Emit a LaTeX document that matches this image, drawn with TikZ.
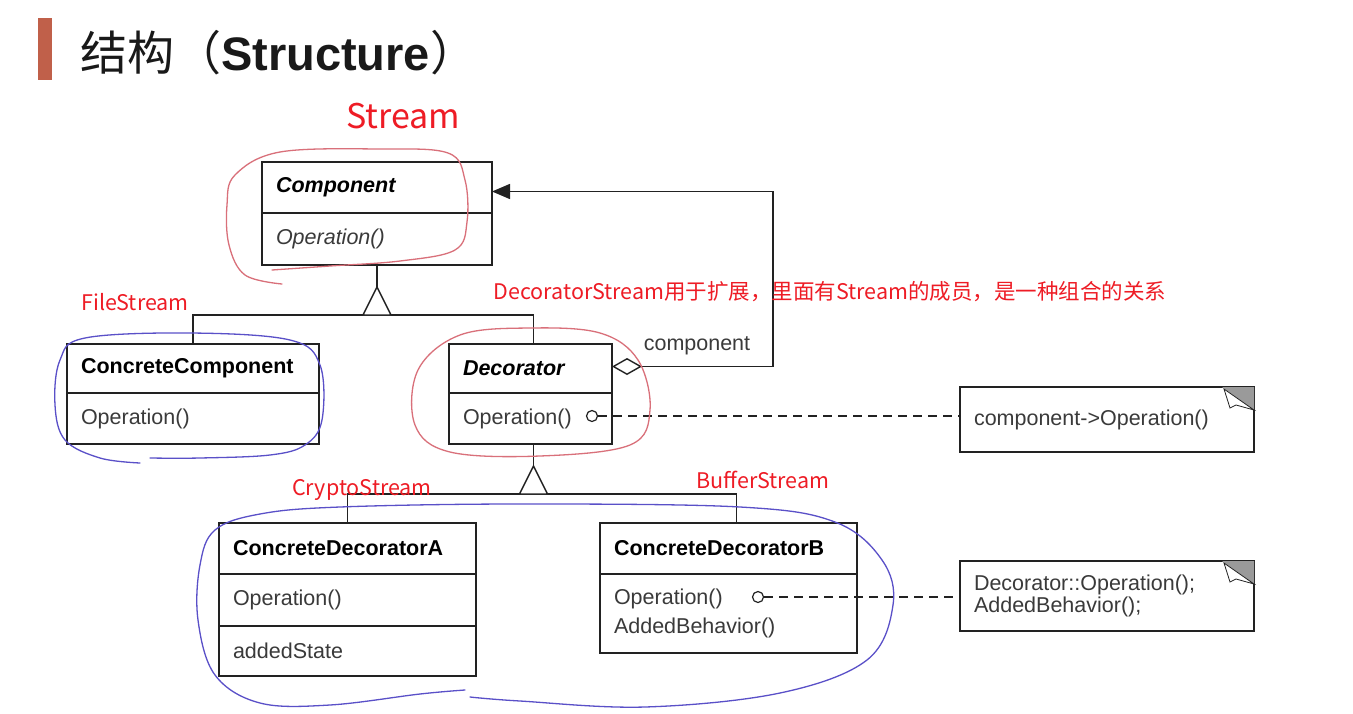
\documentclass[tikz,border=0pt]{standalone}
\usepackage{fontspec}
\setmainfont{Liberation Sans}
\newfontfamily\cjk{Noto Sans CJK SC}
\usetikzlibrary{arrows.meta,positioning,calc}
\definecolor{umlline}{HTML}{222222}
\definecolor{umltext}{HTML}{3A3A3A}
\definecolor{notered}{HTML}{EE1C25}
\definecolor{loopred}{HTML}{D9707A}
\definecolor{loopblue}{HTML}{5A50C8}
\definecolor{barbrown}{HTML}{C0604A}
\definecolor{foldgray}{HTML}{9A9A9A}
\newcommand{\umlfont}{\fontsize{21.5}{29}\selectfont}
\newcommand{\remfont}{\cjk\fontsize{21.5}{26}\selectfont}

\begin{document}
\begin{tikzpicture}[x=1pt, y=-1pt,
  umlbox/.style={draw=umlline, line width=1.4pt, outer sep=0pt, inner xsep=14pt, inner ysep=0pt, align=left, font=\umlfont, text=umltext},
  headbox/.style={umlbox, anchor=north west, text=black, font=\umlfont\bfseries},
  port/.style={circle, draw=umlline, line width=1.2pt, fill=white, minimum size=11pt, inner sep=0pt},
  link/.style={draw=umlline, line width=1.4pt},
  notelink/.style={link, dash pattern=on 9pt off 6pt},
  inherit/.style={draw=umlline, line width=1.4pt, fill=white, line join=miter},
  hint/.style={font=\remfont, text=notered},
  scribble/.style={line width=1.3pt, line cap=round, line join=round}]
  \fill[white] (0,0) rectangle (1353,713);
  \useasboundingbox (0,0) rectangle (1353,713);

  % title
  \node[fill=barbrown, minimum width=14pt, minimum height=62pt, inner sep=0pt, anchor=north west] (bar) at (38,18) {};
  \node[anchor=west, inner sep=0pt, text=black!90, font=\fontsize{47}{50}\selectfont] (title) at (80,53) {{\cjk 结构（}\textbf{Structure}{\cjk ）}};

  % classes
  \node[headbox, text width=202pt, minimum height=51pt, font=\umlfont\bfseries\itshape] (comp) at (262,162) {Component};
  \node[umlbox, text width=202pt, minimum height=52pt, font=\umlfont\itshape, below=0pt of comp] (compops) {Operation()};

  \node[headbox, text width=224pt, minimum height=49pt] (ccomp) at (67,344) {ConcreteComponent};
  \node[umlbox, text width=224pt, minimum height=51pt, below=0pt of ccomp] (ccompops) {Operation()};

  \node[headbox, text width=135pt, minimum height=49pt, font=\umlfont\bfseries\itshape] (deco) at (449,344) {Decorator};
  \node[umlbox, text width=135pt, minimum height=51pt, below=0pt of deco] (decoops) {Operation()};

  \node[headbox, text width=229pt, minimum height=51pt] (cdecoA) at (219,523) {ConcreteDecoratorA};
  \node[umlbox, text width=229pt, minimum height=52pt, below=0pt of cdecoA] (cdecoAops) {Operation()};
  \node[umlbox, text width=229pt, minimum height=50pt, below=0pt of cdecoAops] (cdecoAstate) {addedState};

  \node[headbox, text width=229pt, minimum height=51pt] (cdecoB) at (600,523) {ConcreteDecoratorB};
  \node[umlbox, text width=229pt, minimum height=79pt, below=0pt of cdecoB] (cdecoBops) {Operation()\\AddedBehavior()};

  % notes
  \node[umlbox, anchor=north west, text width=266pt, minimum height=65pt] (note1) at (960,387) {component->Operation()};
  \node[umlbox, anchor=north west, text width=266pt, minimum height=70pt, font=\fontsize{21.5}{22.5}\selectfont] (note2) at (960,561) {Decorator::Operation();\\AddedBehavior();};
  \foreach \n in {note1,note2} {
    \fill[foldgray] (\n.north east) -- ++(-32,0) -- ++(32,23) -- cycle;
    \draw[umlline, line width=0.8pt, fill=white] ($(\n.north east)+(-30,2)$) -- ++(30,21) -- ++(-18,-5) -- ++(-6,3) -- cycle;
  }

  % generalisation
  \coordinate (apex1) at ($(compops.south)+(0,22)$);
  \coordinate (base1) at ($(apex1)+(0,28)$);
  \draw[link] (compops.south) -- (apex1);
  \draw[link] (ccomp.north) |- (base1) -| ([xshift=3pt]deco.north);
  \draw[inherit] (apex1) -- ++(-14,28) -- ++(28,0) -- cycle;

  \coordinate (apex2) at ($(decoops.south)+(3,22)$);
  \coordinate (base2) at ($(apex2)+(0,28)$);
  \draw[link] ([xshift=3pt]decoops.south) -- (apex2);
  \draw[link] (cdecoA.north) |- (base2) -| ([xshift=8pt]cdecoB.north);
  \draw[inherit] (apex2) -- ++(-14,28) -- ++(28,0) -- cycle;

  % aggregation
  \coordinate (loopx) at (773,0);
  \draw[link, {Diamond[open, length=30pt, width=17pt]}-{Triangle[length=18pt, width=15pt]}]
    ([yshift=2pt]deco.east) -- ([yshift=2pt]deco.east -| loopx) |- ([yshift=-4pt]comp.east);
  \node[font=\umlfont, text=umltext] (complabel) at (697,346) {component};

  % implementation notes
  \node[port] (port1) at (592,416) {};
  \draw[notelink] (port1) -- (port1 -| note1.west);
  \node[port] (port2) at (758,597) {};
  \draw[notelink] (port2) -- (port2 -| note2.west);

  % red remarks
  \node[hint, font=\cjk\fontsize{34}{40}\selectfont] (streamlbl) at (403,116) {Stream};
  \node[hint] (filelbl) at (135,302) {FileStream};
  \node[hint, anchor=west] (decolbl) at (490,292) {DecoratorStream用于扩展，里面有Stream的成员，是一种组合的关系};
  \node[hint] (cryptolbl) at (362,490) {CryptoStream};
  \node[hint] (bufferlbl) at (763,480) {BufferStream};

  % hand drawn loops
  \draw[scribble, loopred] plot[smooth, tension=0.6] coordinates {(282,284) (245,275) (229,245) (227,205) (235,175) (280,152) (380,149) (448,153) (465,180) (467,222) (455,250) (400,261) (330,266) (272,270)};
  \draw[scribble, loopred] plot[smooth cycle, tension=0.6] coordinates {(530,328) (600,333) (638,360) (650,410) (630,445) (540,456) (450,452) (415,425) (418,370) (460,335)};
  \draw[scribble, loopblue] plot[smooth, tension=0.6] coordinates {(140,463) (100,458) (65,440) (55,405) (60,360) (85,338) (190,333) (290,340) (320,365) (322,420) (305,445) (270,455) (200,458) (150,458)};
  \draw[scribble, loopblue] plot[smooth, tension=0.6] coordinates {(465,690) (420,694) (330,705) (260,703) (215,675) (198,620) (200,565) (215,530) (260,514) (340,507) (520,504) (740,507) (835,522) (882,560) (893,605) (867,660) (780,693) (645,707) (520,701) (470,697)};
\end{tikzpicture}
\end{document}
